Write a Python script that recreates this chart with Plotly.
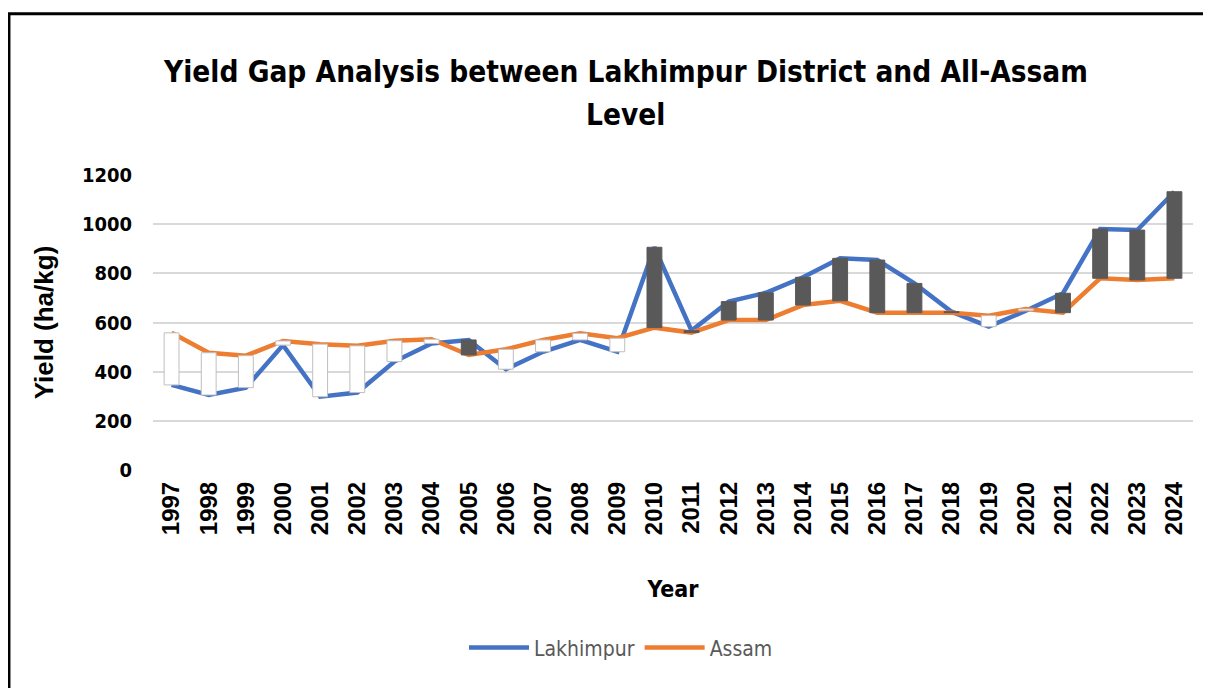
import plotly.graph_objects as go

years = [str(y) for y in range(1997, 2025)]
lakhimpur = [346, 305, 335, 508, 298, 315, 441, 515, 529, 410, 481, 529, 481, 906,
             567, 685, 721, 784, 861, 854, 759, 644, 583, 648, 719, 980, 976, 1132]
assam = [558, 477, 465, 525, 512, 505, 526, 532, 468, 491, 529, 556, 536, 579,
         559, 610, 610, 671, 688, 640, 640, 640, 628, 655, 640, 780, 773, 780]

BLUE = "#4472C4"
ORANGE = "#ED7D31"
DARK = "#595959"
COND = "DejaVu Sans Condensed, Liberation Sans"

base = [min(a, b) for a, b in zip(lakhimpur, assam)]
gap = [abs(a - b) for a, b in zip(lakhimpur, assam)]
bar_fill = [DARK if a >= b else "white" for a, b in zip(lakhimpur, assam)]
bar_line = [DARK if a >= b else "#BFBFBF" for a, b in zip(lakhimpur, assam)]

fig = go.Figure()
fig.add_trace(go.Scatter(x=years, y=lakhimpur, mode="lines", name="Lakhimpur",
                         line=dict(color=BLUE, width=4.5)))
fig.add_trace(go.Scatter(x=years, y=assam, mode="lines", name="Assam",
                         line=dict(color=ORANGE, width=4.5)))
fig.add_trace(go.Bar(x=years, y=gap, base=base, width=0.4, yaxis="y2",
                     marker=dict(color=bar_fill, line=dict(color=bar_line, width=1)),
                     showlegend=False, hoverinfo="skip"))

fig.update_layout(
    width=1211, height=688,
    margin=dict(l=145, r=26, t=167, b=226),
    paper_bgcolor="white", plot_bgcolor="white",
    title=dict(text="Yield Gap Analysis between Lakhimpur District and All-Assam",
               x=0.5103, xanchor="center", y=0.907, yanchor="middle", yref="container",
               font=dict(family=COND, size=29.5, color="black", weight="bold")),
    annotations=[dict(text="Level", xref="paper", yref="paper", x=0.4548, y=1.2034,
                      xanchor="center", yanchor="middle", showarrow=False,
                      font=dict(family=COND, size=29.5, color="black", weight="bold"))],
    xaxis=dict(type="category", range=[-0.5, 27.5], showgrid=False,
               showline=False, zeroline=False, ticks="", tickangle=-90,
               tickfont=dict(family="Liberation Sans", size=24, color="black", weight="bold"),
               ticklabelstandoff=6,
               title=dict(text="Year", standoff=46,
                          font=dict(family=COND, size=23, color="black", weight="bold"))),
    yaxis=dict(range=[0, 1200], dtick=200, showgrid=True, gridcolor="#D9D9D9",
               gridwidth=1.5, zeroline=False, showline=False, ticks="",
               ticklabelstandoff=20,
               tickfont=dict(family=COND, size=20, color="black", weight="bold"),
               title=dict(text="Yield (ha/kg)", standoff=20,
                          font=dict(family="Liberation Sans", size=26, color="black",
                                    weight="bold"))),
    yaxis2=dict(range=[0, 1200], overlaying="y", visible=False),
    legend=dict(orientation="h", x=0.45, xanchor="center", y=-0.603, yanchor="middle",
                font=dict(family=COND, size=21, color="#595959"),
                itemwidth=60),
    shapes=[dict(type="rect", xref="paper", yref="paper",
                 x0=-0.1385, x1=1.2, y0=-1.5, y1=1.547,
                 line=dict(color="black", width=3), fillcolor="rgba(0,0,0,0)",
                 layer="below")],
)

fig.write_html("out.html")
